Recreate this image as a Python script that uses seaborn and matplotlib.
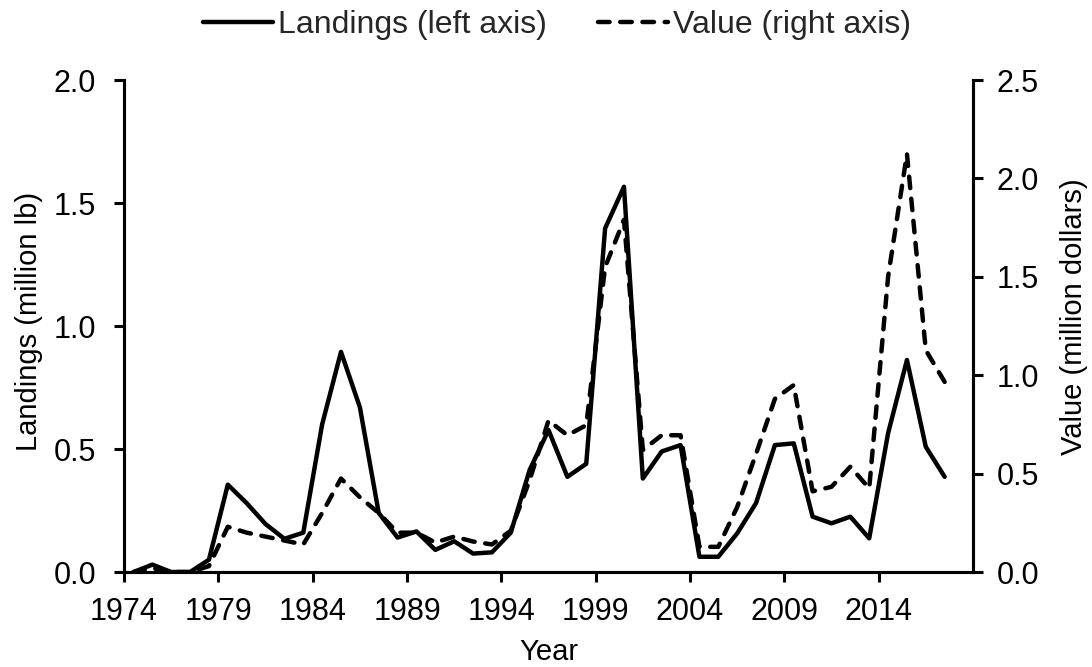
import numpy as np
import pandas as pd
import seaborn as sns
import matplotlib.pyplot as plt

years = list(range(1974, 2018))
landings = [0.0, 0.03, 0.0, 0.0, 0.05, 0.355, 0.28, 0.195, 0.135, 0.16,
            0.60, 0.895, 0.67, 0.24, 0.14, 0.165, 0.09, 0.125, 0.075, 0.08,
            0.16, 0.415, 0.577, 0.387, 0.44, 1.397, 1.566, 0.38, 0.49, 0.516,
            0.062, 0.062, 0.157, 0.28, 0.516, 0.523, 0.225, 0.198, 0.225, 0.137,
            0.564, 0.862, 0.509, 0.387]
value = [0.0, 0.02, 0.0, 0.0, 0.03, 0.23, 0.20, 0.18, 0.16, 0.14,
         0.30, 0.475, 0.38, 0.30, 0.20, 0.20, 0.15, 0.18, 0.155, 0.14,
         0.21, 0.467, 0.77, 0.695, 0.746, 1.55, 1.79, 0.62, 0.695, 0.695,
         0.128, 0.128, 0.33, 0.60, 0.88, 0.95, 0.41, 0.433, 0.535, 0.425,
         1.50, 2.125, 1.127, 0.966]
year_ticks = [1974, 1979, 1984, 1989, 1994, 1999, 2004, 2009, 2014]
left_ticks = [0.0, 0.5, 1.0, 1.5, 2.0]
right_ticks = [0.0, 0.5, 1.0, 1.5, 2.0, 2.5]

sns.set_style("ticks")
plt.rcParams['font.family'] = ['Liberation Sans', 'DejaVu Sans']
plt.rcParams['axes.linewidth'] = 2.2
plt.rcParams['xtick.major.width'] = 2.2
plt.rcParams['ytick.major.width'] = 2.2
plt.rcParams['xtick.major.size'] = 7
plt.rcParams['ytick.major.size'] = 7

df = pd.DataFrame({'Year': years, 'Landings': landings, 'Value': value})

fig = plt.figure(figsize=(10.92, 6.67), dpi=100)
ax = fig.add_axes([0.1136, 0.1424, 0.7774, 0.7376])
ax2 = ax.twinx()

sns.lineplot(data=df, x='Year', y='Landings', ax=ax, color='black',
             linewidth=3.2, label='Landings (left axis)', legend=False)
sns.lineplot(data=df, x='Year', y='Value', ax=ax2, color='black',
             linewidth=3.2, label='Value (right axis)', legend=False)
ax2.lines[0].set_dashes((2.6, 2.4))
ax2.lines[0].set_dash_capstyle('round')

# category-style axis: ticks sit between years
ax.set_xlim(1973.5, 2018.5)
ax.set_xticks([y - 0.5 for y in year_ticks])
ax.set_xticklabels([str(y) for y in year_ticks])
ax.set_ylim(0, 2.0)
ax.set_yticks(left_ticks)
ax.set_yticklabels([f"{t:.1f}" for t in left_ticks])
ax2.set_ylim(0, 2.5)
ax2.set_yticks(right_ticks)
ax2.set_yticklabels([f"{t:.1f}" for t in right_ticks])

fs = 22
ax.tick_params(axis='x', labelsize=fs, colors='black', pad=11)
ax.tick_params(axis='y', labelsize=fs, colors='black', pad=13)
ax2.tick_params(axis='y', labelsize=fs, colors='black', pad=10)
ax.set_xlabel('Year', fontsize=21, color='black')
ax.set_ylabel('Landings (million lb)', fontsize=21, color='black')
ax2.set_ylabel('Value (million dollars)', fontsize=21, color='black')
ax.xaxis.set_label_coords(0.5, -0.134)
ax.yaxis.set_label_coords(-0.096, 0.51)
ax2.yaxis.set_label_coords(1.102, 0.52)

for a in (ax, ax2):
    for s in a.spines.values():
        s.set_color('black')
ax.spines['top'].set_visible(False)
ax2.spines['top'].set_visible(False)

h1, l1 = ax.get_legend_handles_labels()
h2, l2 = ax2.get_legend_handles_labels()
fig.legend(h1 + h2, l1 + l2, loc='center', bbox_to_anchor=(0.51, 0.962),
           ncol=2, frameon=False, fontsize=23, handlelength=2.2,
           handletextpad=0.15, columnspacing=1.6)

fig.savefig('out.png', dpi=100)
